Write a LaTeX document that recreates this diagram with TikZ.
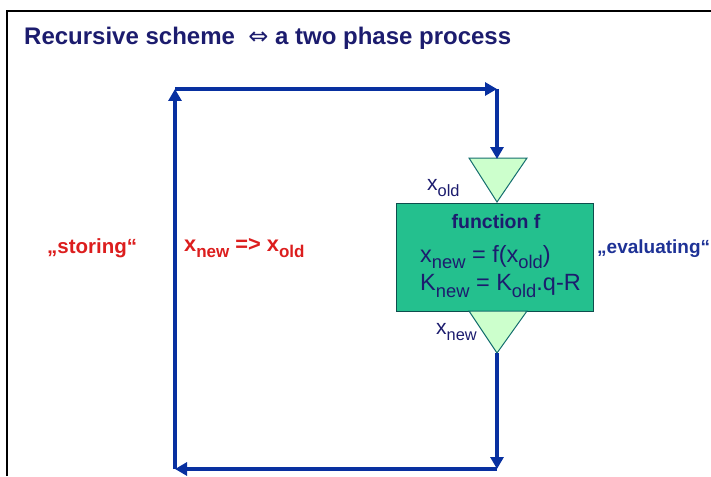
\documentclass[tikz,border=0pt]{standalone}
\usepackage{fontspec}
\setmainfont{Liberation Sans}
\newfontfamily\symfont{DejaVu Sans}
\usetikzlibrary{arrows.meta}
\definecolor{loopblue}{RGB}{8,48,160}
\definecolor{navytext}{RGB}{28,28,110}
\definecolor{boxgreen}{RGB}{36,192,142}
\definecolor{trigreen}{RGB}{204,255,204}
\definecolor{triedge}{RGB}{20,110,110}
\definecolor{redtext}{RGB}{220,30,30}
\definecolor{evalblue}{RGB}{30,50,150}
\newcommand\subx[1]{\raisebox{-0.28em}{\scalebox{0.78}{#1}}}
\tikzset{
  loopline/.style={draw=loopblue, line width=4pt, -{Triangle[length=12pt,width=13pt]}},
  tri/.style={fill=trigreen, draw=triedge, line width=1pt},
  fbox/.style={fill=boxgreen, draw=triedge!70!black, line width=1pt},
  lbl/.style={inner sep=0pt, text=navytext},
}
\begin{document}
\begin{tikzpicture}[x=1pt,y=-1pt]
\useasboundingbox (0,0) rectangle (711,476);
% frame
\draw[line width=2pt] (7,476) -- (7,11) -- (711,11);
% title
\node[lbl, anchor=west, font=\bfseries\fontsize{24}{27}\selectfont] (title) at (24,38)
  {Recursive scheme \ {\symfont\mdseries ⇔} a two phase process};
% corners
\coordinate (TL) at (175,89);
\coordinate (TR) at (497,89);
\coordinate (BR) at (497,469);
\coordinate (BL) at (175,469);
% function box
\draw[fbox] (396,203) rectangle (593,311);
\node[lbl, font=\bfseries\fontsize{19.5}{22}\selectfont] (fn) at (496,222) {function f};
\node[lbl, anchor=west, font=\fontsize{23.5}{26}\selectfont] (eq1) at (420,257) {x\subx{new} = f(x\subx{old})};
\node[lbl, anchor=west, font=\fontsize{23.5}{26}\selectfont] (eq2) at (420,286) {K\subx{new} = K\subx{old}.q-R};
% triangles
\draw[tri] (469,158) -- (527,158) -- (497,202) -- cycle;
\coordinate (tinT) at (497,158);
\draw[tri] (469,311) -- (527,311) -- (497,353) -- cycle;
\coordinate (toutB) at (497,353);
% loop
\draw[loopline] (BL) -- (TL);
\draw[loopline] (TL) -- (TR);
\draw[loopline, shorten >=-1pt] (TR) -- (tinT);
\draw[loopline] (toutB) -- (BR);
\draw[loopline] (BR) -- (BL);
% labels
\node[lbl, anchor=west, font=\fontsize{21}{24}\selectfont] (xold) at (427,188) {x\subx{old}};
\node[lbl, anchor=west, font=\fontsize{21}{24}\selectfont] (xnew) at (436,332) {x\subx{new}};
\node[lbl, anchor=west, text=evalblue, font=\bfseries\fontsize{19}{22}\selectfont] (eval) at (597,249) {„evaluating“};
\node[lbl, anchor=west, text=redtext, font=\bfseries\fontsize{20.5}{23}\selectfont] (stor) at (47,248) {„storing“};
\node[lbl, anchor=west, text=redtext, font=\bfseries\fontsize{21.8}{24}\selectfont] (xfer) at (184,248) {x\subx{new} => x\subx{old}};
\end{tikzpicture}
\end{document}
